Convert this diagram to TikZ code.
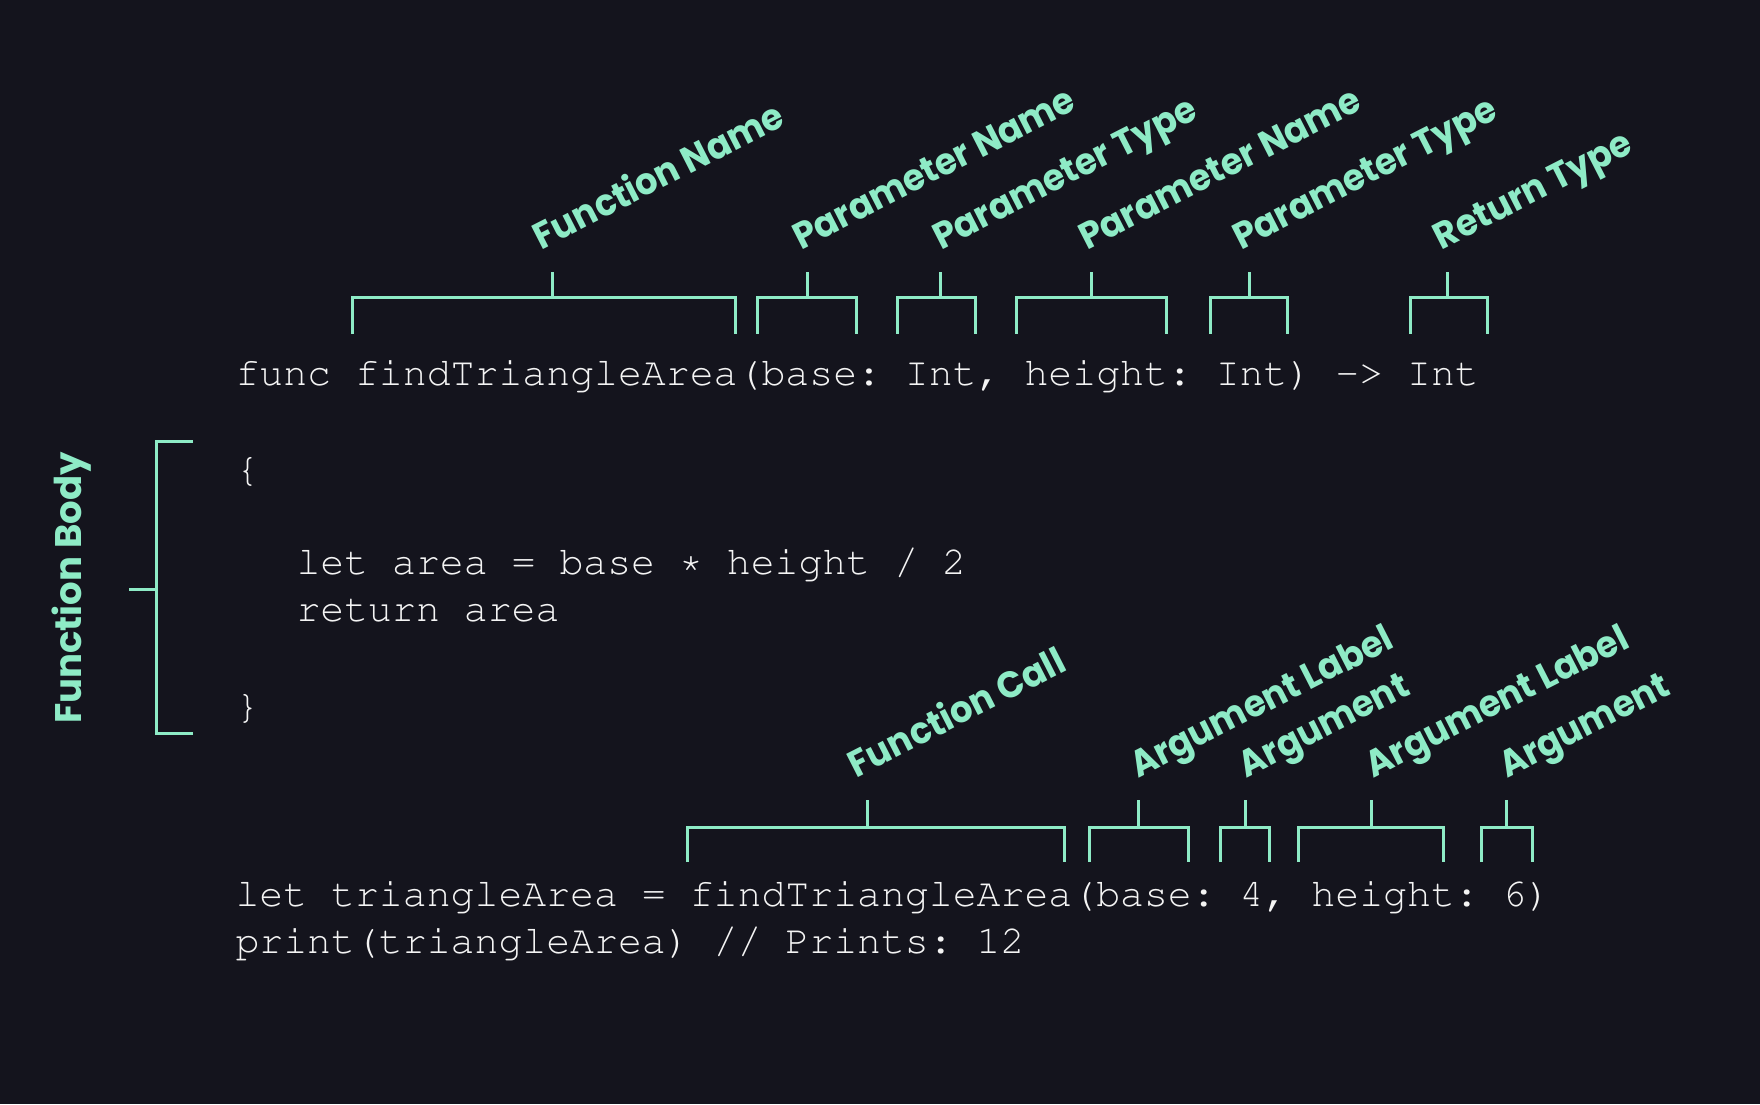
\documentclass[tikz,border=0pt]{standalone}
\usepackage[T1]{fontenc}
\usepackage{fontspec}
\usepackage{graphicx}
\newfontfamily\labfont{Poppins}
\definecolor{bg}{HTML}{14141D}
\definecolor{mint}{HTML}{8EEBC6}
\definecolor{codecol}{HTML}{F4F4F4}
\newcommand\codefont{\fontencoding{T1}\fontfamily{pcr}\fontseries{m}\fontshape{n}\fontsize{39.85}{48}\selectfont\frenchspacing}
\newcommand\labelfont{\labfont\bfseries\fontsize{37}{40}\selectfont}
\newcommand\lbl[1]{\scalebox{0.95}[1]{#1}}
\tikzset{
  codeline/.style={anchor=base west, inner sep=0pt, outer sep=0pt, text=codecol, font=\codefont},
  lab/.style={anchor=base west, inner sep=0pt, outer sep=0pt, text=mint, font=\labelfont, rotate=27},
  brk/.style={draw=mint, line width=3pt, line join=miter, line cap=butt},
}
% bracket: x1, x2, xtick, ytick, yh, ybot
\newcommand\mybracket[6]{%
  \draw[brk] (#1,#6) -- (#1,#5) -- (#2,#5) -- (#2,#6);
  \draw[brk] (#3,#5) -- (#3,#4);
}
\begin{document}
\begin{tikzpicture}[x=1pt,y=-1pt]
\fill[bg] (0,0) rectangle (1760,1104);
\useasboundingbox (0,0) rectangle (1760,1104);

% code
\node[codeline] (l1) at (235.5,385) {func findTriangleArea(base: Int, height: Int) -> Int};
\node[codeline] (l2) at (235.5,481) {\{};
\node[codeline] (l3) at (296.5,574) {let area = base * height / 2};
\node[codeline] (l4) at (296.5,621.7) {return area};
\node[codeline] (l5) at (235.5,718.6) {\}};
\node[codeline] (l6) at (235.5,906.7) {let triangleArea = findTriangleArea(base: 4, height: 6)};
\node[codeline] (l7) at (235.5,953.3) {print(triangleArea) // Prints: 12};

% top brackets
\mybracket{352.4}{735.9}{552.3}{271.7}{297.5}{333.5}
\mybracket{757.2}{856.4}{807.6}{271.7}{297.5}{333.5}
\mybracket{897.9}{975.6}{940.6}{271.7}{297.5}{333.5}
\mybracket{1016.9}{1166.2}{1091}{271.7}{297.5}{333.5}
\mybracket{1210}{1287.8}{1249.2}{271.7}{297.5}{333.5}
\mybracket{1410.4}{1487.8}{1447.5}{271.7}{297.5}{333.5}

% top labels
\node[lab] (t1) at (541.7,250) {\lbl{Function Name}};
\node[lab] (t2) at (801,250) {\lbl{Parameter Name}};
\node[lab] (t3) at (941,250) {\lbl{Parameter Type}};
\node[lab] (t4) at (1087,250) {\lbl{Parameter Name}};
\node[lab] (t5) at (1241,250) {\lbl{Parameter Type}};
\node[lab] (t6) at (1441.7,250) {\lbl{Return Type}};

% bottom brackets
\mybracket{687}{1064.5}{867.7}{800.3}{827.2}{862}
\mybracket{1089.7}{1188.4}{1138.1}{800.3}{827.2}{862}
\mybracket{1220}{1269.7}{1245.6}{800.3}{827.2}{862}
\mybracket{1298.8}{1443}{1371.8}{800.3}{827.2}{862}
\mybracket{1481.8}{1532.3}{1506.5}{800.3}{827.2}{862}

% bottom labels
\node[lab] (u1) at (856.7,778) {\lbl{Function Call}};
\node[lab] (u2) at (1138,778) {\lbl{Argument Label}};
\node[lab] (u3) at (1246.6,778) {\lbl{Argument}};
\node[lab] (u4) at (1373.5,778) {\lbl{Argument Label}};
\node[lab] (u5) at (1507,778) {\lbl{Argument}};

% function body bracket
\coordinate (fbt) at (193,441.7);
\coordinate (fbb) at (193,733);
\draw[brk] (fbt) -- (156.7,441.7) -- (156.7,733) -- (fbb);
\draw[brk] (156.7,589) -- (129,589);
\node[anchor=base, inner sep=0pt, text=mint, font=\labelfont, rotate=90] (fb) at (81.7,588) {Function Body};
\end{tikzpicture}
\end{document}
